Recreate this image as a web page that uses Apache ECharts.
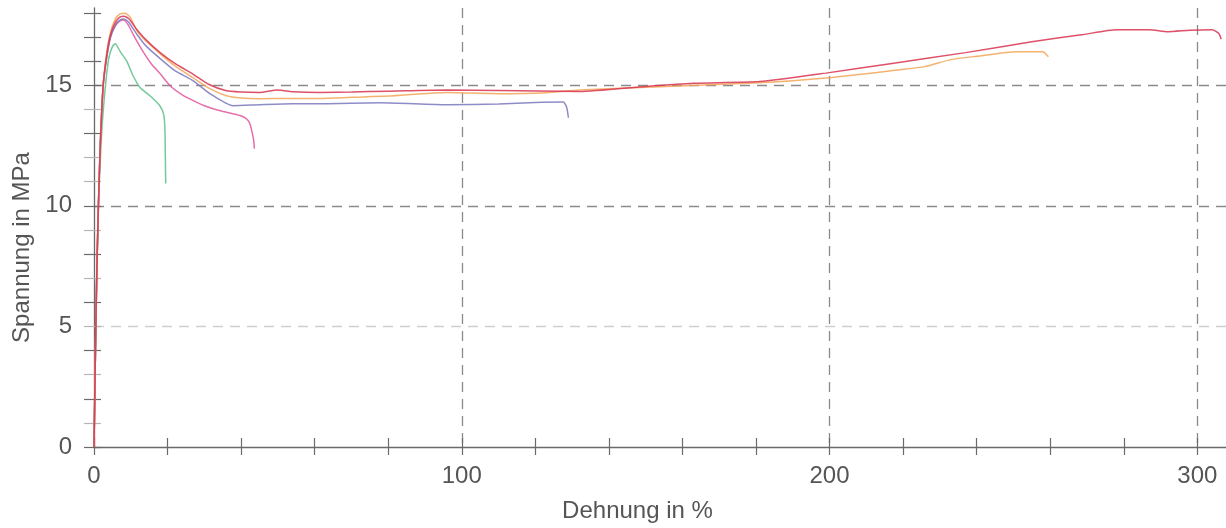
<!DOCTYPE html>
<html>
<head>
<meta charset="utf-8">
<script src="https://cdn.jsdelivr.net/npm/echarts@6/dist/echarts.min.js"></script>
<style>
html,body{margin:0;padding:0;background:#fff;}
#chart{width:1226px;height:528px;}
</style>
</head>
<body>
<div id="chart"></div>
<script>
// Axis labels / ticks
const xTickLabels = [0, 100, 200, 300];
const yTickLabels = [0, 5, 10, 15];
const xMinorTicks = [0,20,40,60,80,100,120,140,160,180,200,220,240,260,280,300];
const yDarkTicks = [0,2,4,6,8,10,13,15,16,17,18];
const yLightTicks = [1,3,5,7,9,11,12,14];

// Series: Dehnung (strain, %) and Spannung (stress, MPa)
const redStrain = [0,0.3,0.5,0.8,1.2,1.7,2.5,3.5,4.5,5.8,7,8.2,9.5,11.7,14,18,22,27,31,36,40,45,49.8,54,61.5,70,80,96,110,132,150,163,181,199,217,237,255,269,278,287,292,298,304,305.8,306.5];
const redStress = [0,3,5,7.5,10,12.5,15,16.3,17.1,17.6,17.82,17.86,17.75,17.3,16.9,16.35,15.9,15.45,15.05,14.77,14.72,14.7,14.8,14.73,14.7,14.72,14.75,14.8,14.78,14.74,14.95,15.08,15.15,15.5,15.9,16.35,16.8,17.1,17.3,17.3,17.22,17.28,17.3,17.15,16.9];

const orangeStrain = [0,0.3,0.5,0.8,1.2,1.7,2.5,3.5,4.5,5.8,7,8.4,9.7,11.7,14,18,22,27,31,36,40,45,52,61.5,70,80,96,110,123,132,154,181,199,219,226,233,240,251,258,259.5];
const orangeStress = [0,3,5,7.5,10,12.5,15,16.4,17.2,17.75,17.95,17.98,17.85,17.25,16.85,16.3,15.8,15.3,14.9,14.56,14.47,14.44,14.45,14.45,14.5,14.55,14.7,14.65,14.69,14.8,14.94,15.1,15.3,15.64,15.77,16.06,16.2,16.39,16.39,16.18];

const blueStrain = [0,0.3,0.5,0.8,1.2,1.7,2.5,3.5,4.5,5.8,7,8.2,9.5,11.7,14,18,22,27,31.5,37.8,45,54,61.5,78,96,110,120,127.6,128.5,129];
const blueStress = [0,3,5,7.5,10,12.5,15,16.2,17,17.5,17.7,17.74,17.6,17.1,16.65,16.1,15.6,15.18,14.65,14.15,14.19,14.23,14.23,14.27,14.19,14.22,14.28,14.3,14.1,13.65];

const pinkStrain = [0,0.3,0.5,0.8,1.2,1.7,2.5,3.5,4.5,5.8,7,8,9.3,11,13.3,15.5,18,20.7,24,27,30,34.3,39.7,41.5,42.4,43.3,43.5,43.6];
const pinkStress = [0,3,5,7.5,10,12.5,15,16.2,17,17.45,17.65,17.7,17.5,17,16.4,15.9,15.47,14.98,14.6,14.36,14.15,13.94,13.74,13.6,13.4,12.83,12.6,12.37];

const greenStrain = [0,0.3,0.5,0.8,1.2,2,3,4,5,5.8,7.1,8.9,10.6,12.5,15.2,17.9,19,19.3,19.4,19.5];
const greenStress = [0,3,5,7.5,10,12.8,14.8,16.1,16.6,16.72,16.4,16.0,15.4,14.9,14.56,14.15,13.75,13.1,12.0,10.92];

function zip(xs, ys) { return xs.map((x, i) => [x, ys[i]]); }

const txt = '#555';
const axisCol = '#6a6a6a';
const fontFam = '"Liberation Sans", Arial, sans-serif';

const chart = echarts.init(document.getElementById('chart'), null, {renderer: 'canvas'});

const xCommon = {type: 'value', min: 0, max: 307.8, interval: 100};
const yCommon = {type: 'value', min: 0, max: 18.2, interval: 5};

function line(name, color, xs, ys) {
  return {
    name, type: 'line', xAxisIndex: 0, yAxisIndex: 0,
    data: zip(xs, ys), showSymbol: false, smooth: 0.2,
    lineStyle: {color, width: 1.5, opacity: 0.85}, itemStyle: {color},
    emphasis: {disabled: true}, z: 3
  };
}

chart.setOption({
  animation: false,
  backgroundColor: '#fff',
  textStyle: {fontFamily: fontFam},
  grid: {left: 94, right: 0, top: 8, bottom: 81, containLabel: false},
  xAxis: [
    Object.assign({}, xCommon, {
      name: 'Dehnung in %', nameLocation: 'middle', nameGap: 52,
      nameTextStyle: {color: txt, fontSize: 24, fontFamily: fontFam, padding: [0, 45, 0, 0]},
      axisLine: {show: true, lineStyle: {color: axisCol, width: 1.3}},
      axisTick: {show: false},
      axisLabel: {color: txt, fontSize: 24, fontFamily: fontFam, margin: 17,
        customValues: xTickLabels},
      splitLine: {show: true, showMinLine: false, showMaxLine: false,
        lineStyle: {color: '#8a8a8a', type: [10, 7], width: 1.3}}
    }),
    Object.assign({}, xCommon, {
      position: 'bottom', offset: -9,
      axisLine: {show: false},
      axisLabel: {show: false},
      splitLine: {show: false},
      axisTick: {show: true, length: 17, customValues: xMinorTicks,
        lineStyle: {color: axisCol, width: 1.2}}
    })
  ],
  yAxis: [
    Object.assign({}, yCommon, {
      name: 'Spannung in MPa', nameLocation: 'middle', nameGap: 60, nameRotate: 90,
      nameTextStyle: {color: txt, fontSize: 24, fontFamily: fontFam, padding: [0, 40, 0, 0]},
      axisLine: {show: true, lineStyle: {color: axisCol, width: 1.3}},
      axisTick: {show: false},
      axisLabel: {color: txt, fontSize: 24, fontFamily: fontFam, margin: 22,
        customValues: yTickLabels},
      splitLine: {show: true, showMinLine: false, showMaxLine: false,
        lineStyle: {color: ['#cfcfcf', '#8a8a8a', '#8a8a8a'], type: [10, 7], width: 1.3}}
    }),
    Object.assign({}, yCommon, {
      position: 'left', offset: -7,
      axisLine: {show: false}, axisLabel: {show: false}, splitLine: {show: false},
      axisTick: {show: true, length: 17, customValues: yLightTicks,
        lineStyle: {color: '#b5b5b5', width: 1.2}}
    }),
    Object.assign({}, yCommon, {
      position: 'left', offset: -7,
      axisLine: {show: false}, axisLabel: {show: false}, splitLine: {show: false},
      axisTick: {show: true, length: 17, customValues: yDarkTicks,
        lineStyle: {color: axisCol, width: 1.2}}
    })
  ],
  series: [
    line('Probe 5', '#5cbf8a', greenStrain, greenStress),
    line('Probe 4', '#e0559c', pinkStrain, pinkStress),
    line('Probe 3', '#7a78bd', blueStrain, blueStress),
    line('Probe 2', '#f2a457', orangeStrain, orangeStress),
    line('Probe 1', '#d8324f', redStrain, redStress)
  ]
});
</script>
</body>
</html>
